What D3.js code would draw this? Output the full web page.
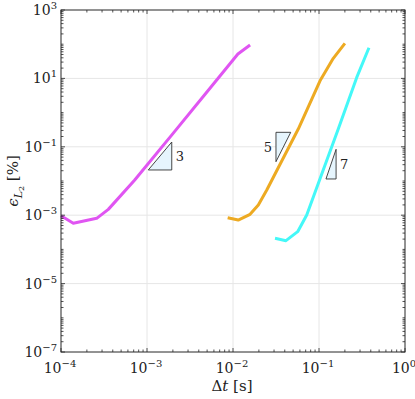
<!DOCTYPE html>
<html>
<head>
<meta charset="utf-8">
<script src="https://cdn.jsdelivr.net/npm/d3@7"></script>
<style>
  body { margin: 0; background: #fff; }
</style>
</head>
<body>
<div id="chart"></div>
<script>
var width = 415;
var height = 399;

// series (dt in s, error in %)
var dtMagenta = [1.0e-4, 1.39e-4, 2.6e-4, 3.55e-4, 7.2e-4, 2e-3, 5e-3, 1.14e-2, 1.58e-2];
var errMagenta = [9.7e-4, 5.8e-4, 8.1e-4, 1.48e-3, 1.07e-2, 0.243, 4.05, 51.7, 95];

var dtOrange = [8.67e-3, 1.15e-2, 1.58e-2, 1.97e-2, 2.47e-2, 5.74e-2, 0.1028, 0.1466, 0.2];
var errOrange = [8.45e-4, 7.2e-4, 1.06e-3, 2.0e-3, 5.46e-3, 0.331, 8.5, 38.7, 106];

var dtCyan = [3.08e-2, 4.13e-2, 5.65e-2, 7.2e-2, 0.1675, 0.274, 0.381];
var errCyan = [2.11e-4, 1.8e-4, 3.3e-4, 1.01e-3, 0.331, 10.5, 79];

var seriesColors = ["#e055f2", "#edaa22", "#44f8f8"];

// slope triangles (corners in data units)
var triLabels = ["3", "5", "7"];
var triX = [[1.035e-3, 1.94e-3, 1.94e-3], [3.16e-2, 4.69e-2, 3.16e-2], [0.1205, 0.158, 0.158]];
var triY = [[0.021, 0.021, 0.138], [0.265, 0.265, 0.0367], [0.01146, 0.01146, 0.0845]];
var triLabelSide = [1, -1, 1];

var xTickExp = [-4, -3, -2, -1, 0];
var yTickExp = [-7, -5, -3, -1, 1, 3];

var mLeft = 61, mRight = 405, mTop = 10, mBottom = 352;
var serif = "'DejaVu Serif', serif";

var xScale = d3.scaleLog().domain([1e-4, 1]).range([mLeft, mRight]);
var yScale = d3.scaleLog().domain([1e-7, 1e3]).range([mBottom, mTop]);

var chart = d3.select("#chart").append("svg")
	.attr("width", width)
	.attr("height", height);

// grid
chart.append("g").selectAll("line")
	.data(xTickExp.slice(1, -1))
	.enter().append("line")
	.attr("x1", d => xScale(Math.pow(10, d)))
	.attr("x2", d => xScale(Math.pow(10, d)))
	.attr("y1", mTop).attr("y2", mBottom)
	.attr("stroke", "#e6e6e6").attr("stroke-width", 1);

chart.append("g").selectAll("line")
	.data(yTickExp.slice(1, -1))
	.enter().append("line")
	.attr("y1", d => yScale(Math.pow(10, d)))
	.attr("y2", d => yScale(Math.pow(10, d)))
	.attr("x1", mLeft).attr("x2", mRight)
	.attr("stroke", "#e6e6e6").attr("stroke-width", 1);

// lines
var line = d3.line()
	.x(d => xScale(d[0]))
	.y(d => yScale(d[1]));

var allSeries = [
	d3.zip(dtMagenta, errMagenta),
	d3.zip(dtOrange, errOrange),
	d3.zip(dtCyan, errCyan)
];

chart.append("g").selectAll("path")
	.data(allSeries)
	.enter().append("path")
	.attr("d", line)
	.attr("fill", "none")
	.attr("stroke", (d, i) => seriesColors[i])
	.attr("stroke-width", 3)
	.attr("stroke-linejoin", "round");

// slope triangles
triX.forEach(function(xs, i) {
	var pts = xs.map((x, j) => [xScale(x), yScale(triY[i][j])]);
	chart.append("path")
		.attr("d", "M" + pts.join("L") + "Z")
		.attr("fill", "#e6f5fd")
		.attr("stroke", "#333")
		.attr("stroke-width", 0.9);
	// label next to the vertical side
	var vx = (i === 1) ? pts[0][0] : pts[1][0];
	var ys = triY[i].map(yScale);
	var my = (d3.min(ys) + d3.max(ys)) / 2;
	chart.append("text")
		.attr("x", vx + triLabelSide[i] * 4)
		.attr("y", my + 5)
		.attr("text-anchor", triLabelSide[i] > 0 ? "start" : "end")
		.style("font-family", serif)
		.style("font-size", "13px")
		.attr("fill", "#222")
		.text(triLabels[i]);
});

// minor / major ticks
function decadeTicks(lo, hi) {
	var t = [];
	for (var e = lo; e < hi; e++) {
		for (var m = 1; m < 10; m++) t.push(m * Math.pow(10, e));
	}
	t.push(Math.pow(10, hi));
	return t;
}

var xTicksAll = decadeTicks(-4, 0);
var yTicksAll = decadeTicks(-7, 3);
var axisColor = "#262626";

function isMajorX(v) { return Math.abs(Math.log10(v) - Math.round(Math.log10(v))) < 1e-9; }
function isMajorY(v) {
	var l = Math.log10(v);
	return Math.abs(l - Math.round(l)) < 1e-9 && yTickExp.indexOf(Math.round(l)) >= 0;
}

var ticks = chart.append("g").attr("stroke", axisColor).attr("stroke-width", 0.8);
xTicksAll.forEach(function(v) {
	var len = isMajorX(v) ? 4 : 2.5;
	var x = xScale(v);
	ticks.append("line").attr("x1", x).attr("x2", x).attr("y1", mBottom).attr("y2", mBottom - len);
	ticks.append("line").attr("x1", x).attr("x2", x).attr("y1", mTop).attr("y2", mTop + len);
});
yTicksAll.forEach(function(v) {
	var len = isMajorY(v) ? 4 : 2.5;
	var y = yScale(v);
	ticks.append("line").attr("y1", y).attr("y2", y).attr("x1", mLeft).attr("x2", mLeft + len);
	ticks.append("line").attr("y1", y).attr("y2", y).attr("x1", mRight).attr("x2", mRight - len);
});

// box
chart.append("rect")
	.attr("x", mLeft).attr("y", mTop)
	.attr("width", mRight - mLeft).attr("height", mBottom - mTop)
	.attr("fill", "none")
	.attr("stroke", axisColor)
	.attr("stroke-width", 1);

// tick labels
function powLabel(sel, e) {
	sel.append("tspan").style("font-family", serif).text("10");
	sel.append("tspan")
		.attr("dy", -6)
		.style("font-family", serif)
		.style("font-size", "10px")
		.text(e < 0 ? "\u2212" + (-e) : String(e));
}

chart.append("g").selectAll("text")
	.data(xTickExp)
	.enter().append("text")
	.attr("x", d => xScale(Math.pow(10, d)) - 1)
	.attr("y", 373)
	.attr("text-anchor", "middle")
	.style("font-family", serif)
	.style("font-size", "14px")
	.attr("fill", "#222")
	.each(function(d) { powLabel(d3.select(this), d); });

chart.append("g").selectAll("text")
	.data(yTickExp)
	.enter().append("text")
	.attr("x", 57)
	.attr("y", d => yScale(Math.pow(10, d)) + 5)
	.attr("text-anchor", "end")
	.style("font-family", serif)
	.style("font-size", "14px")
	.attr("fill", "#222")
	.each(function(d) { powLabel(d3.select(this), d); });

// axis labels
var xl = chart.append("text")
	.attr("x", 232)
	.attr("y", 391)
	.attr("text-anchor", "middle")
	.style("font-family", serif)
	.style("font-size", "15px")
	.attr("fill", "#222");
xl.append("tspan").style("font-family", serif).text("\u0394");
xl.append("tspan").style("font-family", serif).style("font-style", "italic").text("t");
xl.append("tspan").style("font-family", serif).text(" [s]");

var yl = chart.append("text")
	.attr("transform", "translate(18," + ((mTop + mBottom) / 2) + ") rotate(-90)")
	.attr("text-anchor", "middle")
	.style("font-family", serif)
	.style("font-size", "15px")
	.attr("fill", "#222");
yl.append("tspan").style("font-family", serif).style("font-style", "italic").text("\u03f5");
yl.append("tspan").attr("dy", 4).style("font-family", serif).style("font-style", "italic").style("font-size", "11px").text("L");
yl.append("tspan").attr("dy", 2).style("font-family", serif).style("font-size", "8px").text("2");
yl.append("tspan").attr("dy", -6).style("font-family", serif).text(" [%]");
</script>
</body>
</html>
